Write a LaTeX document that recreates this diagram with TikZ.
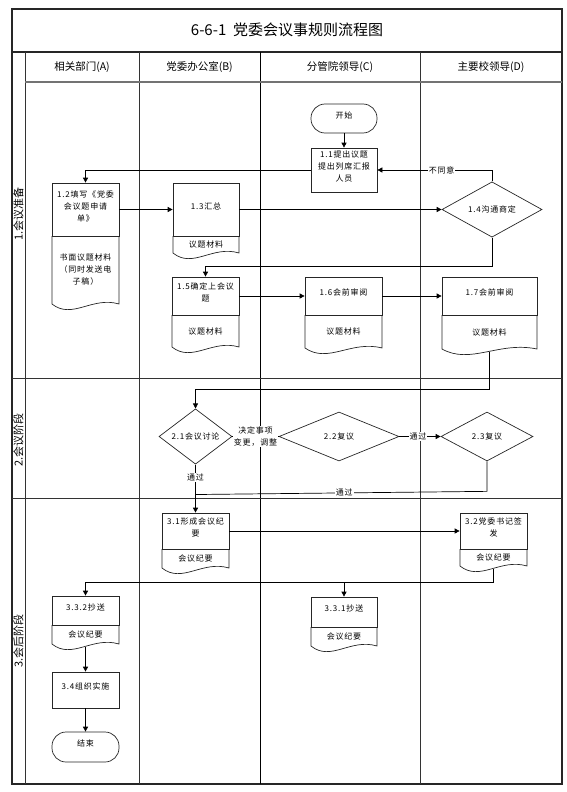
\documentclass[tikz,border=0pt]{standalone}
\usepackage{fontspec}
\setmainfont{Noto Sans CJK SC}
\newfontfamily\nf[LetterSpace=10]{Noto Sans CJK SC}
\usetikzlibrary{arrows.meta,shapes.geometric,fit,calc}
\tikzset{
  frame/.style={line width=1.1pt, draw=black!85},
  grid/.style={line width=0.9pt, draw=black!80},
  shp/.style={line width=0.7pt, draw=black!85},
  box/.style={shp, inner sep=0pt, align=center, font=\nf\fontsize{8}{12}\selectfont},
  txt/.style={align=center, inner sep=0pt, font=\nf\fontsize{8}{12}\selectfont},
  term/.style={box, rounded corners=14pt},
  dia/.style={shp, shape=diamond, inner sep=0pt, align=center, font=\nf\fontsize{8}{12}\selectfont},
  arr/.style={line width=0.7pt, -{Triangle[length=5pt,width=5pt]}},
  con/.style={line width=0.7pt},
  lbl/.style={fill=white, inner sep=1pt, align=center, font=\nf\fontsize{8}{12}\selectfont},
  hdr/.style={font=\fontsize{10.5}{12}\selectfont},
  lane/.style={rotate=90, font=\fontsize{11}{13}\selectfont},
}
\newcommand\docnode[8]{%
  \node[box, fit={(#2,#4) (#3,#5)}] (#1) {#7};
  \draw[shp] (#2,#5) -- (#2,#6) .. controls ({#2+0.3*(#3-#2)},{#6+16}) and ({#2+0.6*(#3-#2)},{#6-8}) .. (#3,#6) -- (#3,#5);
  \node[txt] (#1t) at ({(#2+#3)/2},{(#5+#6)/2}) {#8};
  \coordinate (#1b) at ({(#2+#3)/2},{#6+3});
}
\begin{document}
\begin{tikzpicture}[x=1pt,y=-1pt]
\useasboundingbox (0,0) rectangle (567,792);
% frame
\draw[frame] (12,9) rectangle (562,784);
\draw[frame] (12,52) -- (562,52);
\draw[grid] (25,52) -- (25,784);
\draw[grid] (139,52) -- (139,784);
\draw[line width=0.7pt] (260,52) -- (260,784);
\draw[grid] (420,52) -- (420,784);
\draw[line width=1.2pt, draw=black!55] (25,82) -- (562,82);
\draw[grid] (12,378) -- (562,378);
\draw[grid] (12,498) -- (562,498);
% title and headers
\node[font=\fontsize{15}{17}\selectfont] (title) at (287,30) {6-6-1\ \ 党委会议事规则流程图};
\node[hdr] (hA) at (82,67) {相关部门(A)};
\node[hdr] (hB) at (199.5,67) {党委办公室(B)};
\node[hdr] (hC) at (340,67) {分管院领导(C)};
\node[hdr] (hD) at (491,67) {主要校领导(D)};
\node[lane] (l1) at (18.5,214) {1.会议准备};
\node[lane] (l2) at (18.5,440) {2.会议阶段};
\node[lane] (l3) at (18.5,641) {3.会后阶段};
% nodes
\node[term, fit={(311,104) (377,133)}] (start) {开始};
\node[box, fit={(311,148) (377,192)}] (n11) {1.1提出议题\\提出列席汇报\\人员};
\docnode{n12}{52}{119}{183}{236}{304}{1.2填写《党委\\会议题申请\\单》}{书面议题材料\\（同时发送电\\子稿）}
\docnode{n13}{173}{239}{183}{236}{253}{1.3汇总}{议题材料}
\node[dia, minimum width=100pt, minimum height=52pt] (n14) at (492,209.5) {1.4沟通商定};
\docnode{n15}{172}{239}{277}{315}{347}{1.5确定上会议\\题}{议题材料}
\docnode{n16}{305}{382}{277}{315}{348}{1.6会前审阅}{议题材料}
\docnode{n17}{442}{537}{277}{315}{349}{1.7会前审阅}{议题材料}
\node[dia, minimum width=73pt, minimum height=49pt] (n21) at (195.5,436.5) {2.1会议讨论};
\node[dia, minimum width=120pt, minimum height=49pt] (n22) at (339,436.5) {2.2复议};
\node[dia, minimum width=92pt, minimum height=49pt] (n23) at (487,436.5) {2.3复议};
\docnode{n31}{162}{229}{513}{549}{568}{3.1形成会议纪\\要}{会议纪要}
\docnode{n32}{460}{527}{513}{549}{566}{3.2党委书记签\\发}{会议纪要}
\docnode{n332}{52}{119}{596}{625}{644}{3.3.2抄送}{会议纪要}
\docnode{n331}{311}{377}{597}{627}{646}{3.3.1抄送}{会议纪要}
\node[box, fit={(52,672) (119,708)}] (n34) {3.4组织实施};
\node[term, fit={(52,732) (119,762)}] (end) {结束};
% connectors
\draw[arr] (start) -- (n11);
\draw[arr] (n11.west) -| (n12.north);
\draw[arr] (n12.east) -- (n13.west);
\draw[arr] (n13.east) -- (n14.west);
\draw[arr] (n14.north) |- (n11.east) node[lbl, pos=0.72] {不同意};
\draw[arr] (n14.south) -- ++(0,29) -| (n15.north);
\draw[arr] (n15.east) -- (n16.west);
\draw[arr] (n16.east) -- (n17.west);
\draw[arr] (n17b) -- ++(0,37) -| (n21.north);
\draw[con] (n21.east) -- (n22.west) node[lbl, midway] {决定事项\\变更，调整};
\draw[arr] (n22.east) -- (n23.west) node[lbl, pos=0.45] {通过};
\draw[con] (n23.south) -- ++(0,30) -- ($(n21.south)+(0,30)$) node[lbl, pos=0.49] {通过};
\draw[arr] (n21.south) -- (n31.north) node[lbl, pos=0.27] {通过};
\draw[arr] (n31.east) -- (n32.west);
\draw[arr] (n32b) -- ++(0,13) -| (n332.north);
\draw[arr] (n32b) -- ++(0,13) -| (n331.north);
\draw[arr] (n332b) -- (n34.north);
\draw[arr] (n34.south) -- (end.north);
\end{tikzpicture}
\end{document}
